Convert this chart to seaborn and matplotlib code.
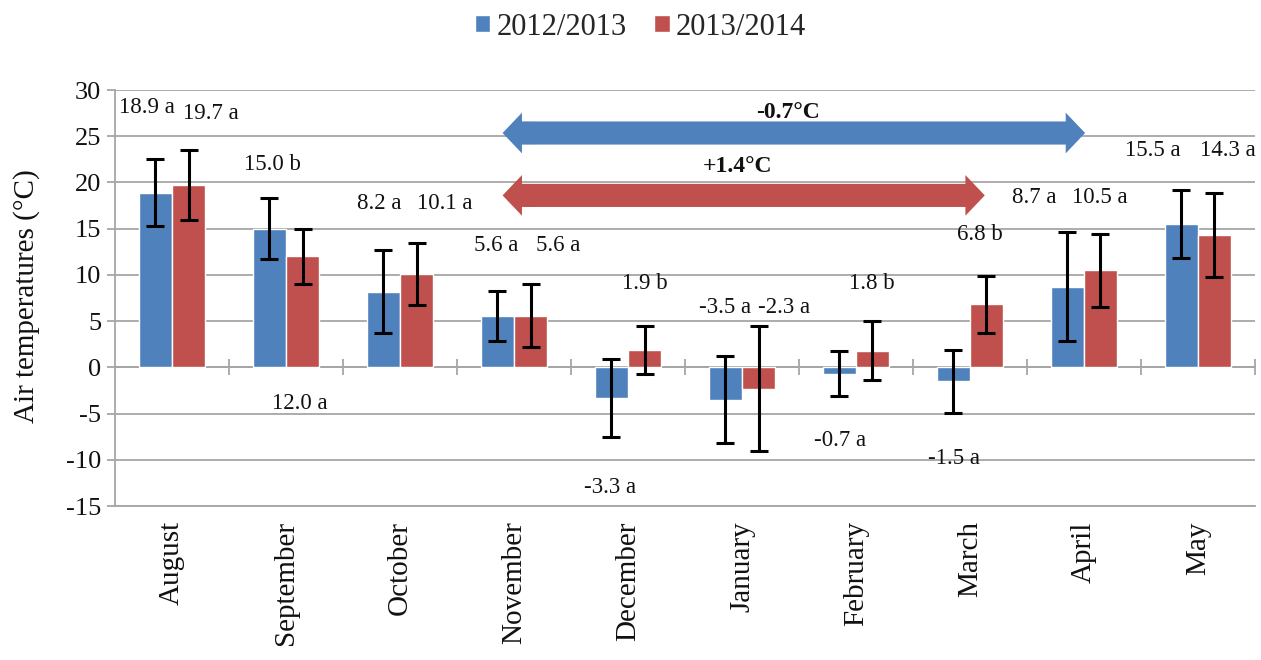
import numpy as np
import pandas as pd
import matplotlib
matplotlib.use("Agg")
import matplotlib.pyplot as plt
from matplotlib.patches import FancyArrow
import seaborn as sns

# ---- data -------------------------------------------------------------
months = ["August", "September", "October", "November", "December",
          "January", "February", "March", "April", "May"]
seasons = ["2012/2013", "2013/2014"]

temp_1213 = [18.9, 15.0, 8.2, 5.6, -3.3, -3.5, -0.7, -1.5, 8.7, 15.5]
temp_1314 = [19.7, 12.0, 10.1, 5.6, 1.9, -2.3, 1.8, 6.8, 10.5, 14.3]
sd_1213 = [3.6, 3.3, 4.5, 2.7, 4.25, 4.7, 2.45, 3.4, 5.9, 3.7]
sd_1314 = [3.8, 3.0, 3.4, 3.4, 2.6, 6.75, 3.2, 3.1, 3.95, 4.55]
letters_1213 = ["a", "b", "a", "a", "a", "a", "a", "a", "a", "a"]
letters_1314 = ["a", "a", "a", "a", "b", "a", "b", "b", "a", "a"]

# season-mean change over the winter span
diff_1213 = "-0.7°C"
diff_1314 = "+1.4°C"

# ---- layout of annotations (data coordinates) -------------------------
lab_xy_1213 = [(-0.22, 28.1), (0.88, 21.9), (1.82, 17.7), (2.84, 13.2), (3.84, -13.0),
               (4.85, 6.5), (5.86, -7.95), (6.86, -9.9), (7.56, 18.4), (8.60, 23.5)]
lab_xy_1314 = [(0.34, 27.5), (1.12, -3.95), (2.39, 17.7), (3.39, 13.2), (4.15, 9.1),
               (5.37, 6.5), (6.14, 9.1), (7.09, 14.4), (8.14, 18.4), (9.26, 23.5)]
arrow_1213 = dict(x0=2.90, x1=8.01, y=25.35)
arrow_1314 = dict(x0=2.90, x1=7.13, y=18.6)
arrow_lab_1213 = (5.40, 27.6)
arrow_lab_1314 = (4.96, 21.75)

BLUE = "#4F81BD"
RED = "#C0504D"
GRID = "#A6A6A6"

sns.set_theme(style="white")
plt.rcParams["font.family"] = ["Liberation Serif", "DejaVu Serif"]
plt.rcParams["axes.unicode_minus"] = False

df = pd.DataFrame({
    "Month": months * 2,
    "Temp": temp_1213 + temp_1314,
    "Season": [seasons[0]] * len(months) + [seasons[1]] * len(months),
})

fig = plt.figure(figsize=(12.61, 6.6), dpi=100)
ax = fig.add_axes([0.0912, 0.2333, 0.904, 0.6303])

sns.barplot(data=df, x="Month", y="Temp", hue="Season", order=months,
            hue_order=seasons, palette=[BLUE, RED], saturation=1,
            width=0.58, errorbar=None, ax=ax, zorder=2)

# error bars at the bar centres produced by seaborn
for cont, vals, errs in zip(ax.containers, [temp_1213, temp_1314], [sd_1213, sd_1314]):
    xs = [b.get_x() + b.get_width() / 2 for b in cont]
    ax.errorbar(xs, vals, yerr=errs, fmt="none", ecolor="black",
                elinewidth=2.2, capsize=6.5, capthick=2.2, zorder=4)

# value + significance letters
for vals, lets, pos in [(temp_1213, letters_1213, lab_xy_1213),
                        (temp_1314, letters_1314, lab_xy_1314)]:
    for v, l, (x, y) in zip(vals, lets, pos):
        ax.text(x, y, f"{v:.1f} {l}", ha="center", va="center",
                fontsize=16.5, color="#111111", zorder=5)

# double-headed block arrows: a right-pointing arrow plus a left head on top
HEAD_L, HEAD_W, SHAFT_W = 0.17, 4.4, 2.5
for arr, col in [(arrow_1213, BLUE), (arrow_1314, RED)]:
    x0, x1, y = arr["x0"], arr["x1"], arr["y"]
    ax.add_patch(FancyArrow(x0 + 0.1, y, x1 - (x0 + 0.1), 0, width=SHAFT_W,
                            head_width=HEAD_W, head_length=HEAD_L,
                            length_includes_head=True, color=col,
                            linewidth=0, zorder=3))
    ax.add_patch(FancyArrow(x0 + 0.3, y, -0.3, 0, width=SHAFT_W - 0.1,
                            head_width=HEAD_W, head_length=HEAD_L,
                            length_includes_head=True, color=col,
                            linewidth=0, zorder=3.1))
ax.text(*arrow_lab_1213, diff_1213, ha="center", va="center", fontsize=17,
        fontweight="bold", color="#111111", zorder=5)
ax.text(*arrow_lab_1314, diff_1314, ha="center", va="center", fontsize=17,
        fontweight="bold", color="#111111", zorder=5)

# axes styling
ax.set_ylim(-15, 30)
ax.set_xlim(-0.5, 9.5)
ax.set_yticks(range(-15, 31, 5))
ax.yaxis.grid(True, color=GRID, linewidth=1.3)
ax.set_axisbelow(True)
for s in ["top", "right"]:
    ax.spines[s].set_visible(False)
for s in ["left", "bottom"]:
    ax.spines[s].set_color(GRID)
    ax.spines[s].set_linewidth(1.3)
ax.tick_params(axis="y", left=True, length=6, width=1.3, color=GRID,
               labelsize=19, pad=4, labelcolor="#111111")
ax.tick_params(axis="x", bottom=False, length=0, pad=11, labelsize=21,
               labelcolor="#111111")
ax.set_xticks(range(len(months)))
ax.set_xticklabels(months, rotation=90, va="top", ha="center")
ax.set_xlabel("")
ax.set_ylabel("Air temperatures (°C)", fontsize=21, color="#111111")
ax.yaxis.set_label_coords(-0.066, 0.505)

# zero line with category separators
zero = ax.secondary_xaxis(15 / 45)
zero.set_xticks(np.arange(0.5, 10, 1))
zero.tick_params(direction="inout", length=12, width=1.3, color=GRID,
                 labelbottom=False, labeltop=False)
zero.spines["bottom"].set_color(GRID)
zero.spines["bottom"].set_linewidth(1.3)

sns.move_legend(ax, "center", bbox_to_anchor=(0.508, 0.959),
                bbox_transform=fig.transFigure, ncol=2, frameon=False,
                title=None, fontsize=22, handlelength=0.5, handleheight=0.5,
                handletextpad=0.2, columnspacing=0.9)

fig.savefig("out.png", dpi=100)
